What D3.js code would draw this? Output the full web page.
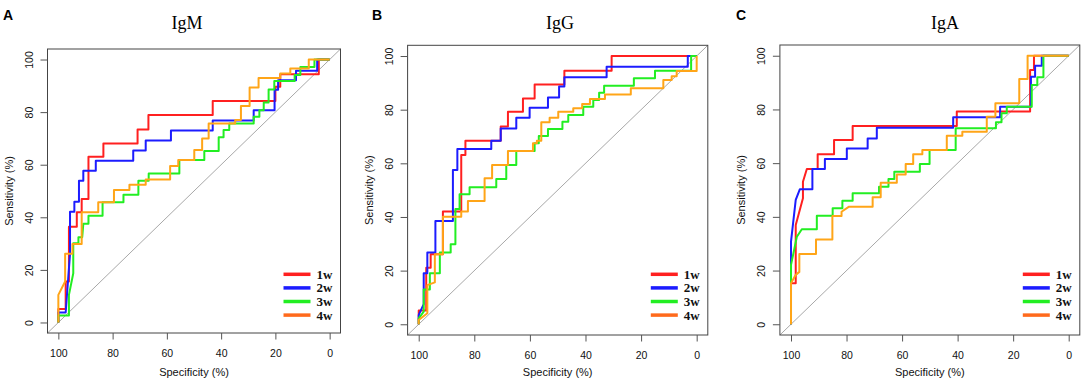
<!DOCTYPE html>
<html>
<head>
<meta charset="utf-8">
<script src="https://cdn.jsdelivr.net/npm/d3@7"></script>
<style>
	body { margin: 0; background: #fff; }
	svg { display: block; }
</style>
</head>
<body>
<svg id="chart" width="1084" height="386"></svg>
<script>
// ROC points as [specificity %, sensitivity %]
const igm1w = [[100,0],[100,5.1],[97.3,5.1],[97.3,15.6],[96.1,15.6],[96.1,36.4],[93.2,36.4],[93.2,41.9],[91.4,41.9],[91.4,47],[88.9,47],[88.9,63],[83.4,63],[83.4,68.1],[70.8,68.1],[70.8,73.4],[66.8,73.4],[66.8,78.9],[43.1,78.9],[43.1,84.2],[20,84.2],[20,89.6],[18.2,89.6],[18.2,94.4],[4,94.4],[4,100],[0,100]];
const igm2w = [[100,0],[100,3.8],[97.3,3.8],[96.5,15],[95.7,26],[95.7,42.1],[94.1,42.1],[94.1,45.9],[92.4,45.9],[92.4,53.9],[90.8,53.9],[90.8,57.7],[86.2,57.7],[86.2,61.5],[72.4,61.5],[72.4,65.4],[67.8,65.4],[67.8,69.2],[58.5,69.2],[58.5,73],[43.1,73],[43.1,76.8],[28,76.8],[28,80.7],[20.3,80.7],[20.3,88.5],[19,88.5],[19,92.1],[12.4,92.1],[12.4,95.7],[4.6,95.7],[4.6,100],[0,100]];
const igm3w = [[100,0],[100,2.7],[96.1,2.7],[96.1,10.5],[94.5,18.7],[94.5,30.1],[92.6,30.1],[92.6,32.4],[91.2,32.4],[90.8,37.5],[88.9,37.5],[88.9,40.6],[83.7,40.6],[83.7,45.7],[76,45.7],[76,48.6],[70.5,48.6],[70.5,53.9],[66.7,53.9],[66.7,56.7],[55.4,56.7],[55.4,61.8],[46.2,61.8],[46.2,65.2],[40.9,65.2],[40.9,70.4],[39.1,70.4],[39.1,73.2],[37,73.2],[37,75.7],[28,75.7],[28,78.2],[25.9,78.2],[25.9,80.7],[24.3,80.7],[24.3,83.7],[22.5,83.7],[22.5,88.6],[20.4,88.6],[20.4,91.8],[12.9,91.8],[12.9,94.1],[10.8,94.1],[10.8,97.2],[5.6,97.2],[5.6,100],[0,100]];
const igm4w = [[100,0],[100,10.5],[97.5,15.6],[97.5,26.1],[94.8,26.1],[94.8,29.8],[91.4,29.8],[91.4,41.9],[85.3,41.9],[85.3,45.7],[79.5,45.7],[79.5,50.4],[73.8,50.4],[73.8,52.4],[67.8,52.4],[67.8,54.4],[58.8,54.4],[58.8,59.5],[55.8,59.5],[55.8,61.8],[49.9,61.8],[49.9,65.6],[47,65.6],[47,70],[44.6,70],[44.6,75.7],[34.8,75.7],[34.8,77],[32.7,77],[32.7,82.3],[29.5,82.3],[29.5,89.4],[26.2,89.4],[26.2,93],[18.2,93],[18.2,94.7],[14.5,94.7],[14.5,96.6],[7.7,96.6],[7.7,100],[0,100]];

const igg1w = [[100,0],[100,5.1],[97.3,5.1],[97.3,21.1],[95.7,21.1],[95.7,26.1],[91.3,26.1],[91.3,42],[84.7,42],[84.7,63.1],[83.2,63.1],[83.2,68.4],[70.5,68.4],[70.5,73.7],[67.9,73.7],[67.9,79.2],[62.5,79.2],[62.5,84.2],[58.3,84.2],[58.3,89.4],[47.6,89.4],[47.6,94.5],[30.6,94.5],[30.6,100],[0,100]];
const igg2w = [[100,0],[100,3.5],[98.2,7.5],[98.2,19],[96.9,19],[96.9,26.8],[94,26.8],[94,38.5],[87.7,38.5],[87.7,57.5],[86.1,57.5],[86.1,65.3],[73.9,65.3],[73.9,68.4],[70.5,68.4],[70.5,73],[64.9,73],[64.9,77],[60.1,77],[60.1,80.7],[53.5,80.7],[53.5,84.5],[49.5,84.5],[49.5,88.6],[47.6,88.6],[47.6,92.1],[32.4,92.1],[32.4,96],[3.2,96],[3.2,100],[0,100]];
const igg3w = [[100,0],[100,2.2],[98.2,4.7],[98.2,13],[96,13],[96,19],[92.4,19],[92.4,26.8],[88.5,26.8],[88.5,29.8],[86.8,29.8],[86.8,43],[85.3,43],[85.3,48.5],[81.7,48.5],[81.7,51.1],[72.1,51.1],[72.1,54.2],[68.5,54.2],[68.5,59.4],[64.9,59.4],[64.9,64.6],[58.3,64.6],[58.3,67.5],[56.8,67.5],[56.8,70.2],[53.5,70.2],[53.5,72.8],[48.3,72.8],[48.3,75.5],[46.2,75.5],[46.2,78],[40.8,78],[40.8,81.1],[37.2,81.1],[37.2,83.6],[35.1,83.6],[35.1,86.3],[33.3,86.3],[33.3,88.9],[22.6,88.9],[22.6,91.7],[15,91.7],[15,94.5],[2,94.5],[2,100],[0,100]];
const igg4w = [[100,0],[100,1.6],[96.9,4.1],[96.9,14.6],[94.2,15.6],[94.2,26.1],[91.3,26.1],[91.3,40.1],[84.7,40.1],[84.7,42],[82.3,42],[82.3,46],[76.3,46],[76.3,54.4],[73.6,54.4],[73.6,59.4],[67.9,59.4],[67.9,64.6],[58.9,64.6],[58.9,67.5],[57.5,67.5],[57.5,68.4],[55.9,68.4],[55.9,75.3],[52.9,75.3],[52.9,77],[49.8,77],[49.8,79.2],[44.4,79.2],[44.4,80.5],[41.2,80.5],[41.2,82.1],[38.4,82.1],[38.4,84],[33,84],[33,85.7],[23.7,85.7],[23.7,88],[12,88],[12,91.1],[9,91.1],[9,92.5],[7.2,92.5],[7.2,94.4],[0,94.4],[0,100]];

const iga1w = [[100,0],[100,15.3],[98.3,15.3],[98.3,37],[95.7,46.9],[95.7,53.1],[94.3,57.8],[90.4,57.8],[90.4,63.3],[84.5,63.3],[84.5,68.6],[77.8,68.6],[77.8,73.8],[40.3,73.8],[40.3,79.2],[13.9,79.2],[13.9,94.7],[12.5,94.7],[12.5,100],[0,100]];
const iga2w = [[100,0],[100,30.8],[98.3,46.3],[96.8,50.3],[92.3,50.3],[92.3,57.8],[87.8,57.8],[87.8,61.5],[79.9,61.5],[79.9,65.5],[72.4,65.5],[72.4,69.2],[69.1,69.2],[69.1,73.2],[41.6,73.2],[41.6,77.1],[24.7,77.1],[24.7,81],[13.6,81],[13.6,92.2],[12.1,92.2],[12.1,96.3],[9.7,96.3],[9.7,100],[0,100]];
const iga3w = [[100,0],[100,22.1],[97.9,32.6],[96.1,35.4],[90.7,35.4],[90.7,40.4],[85,40.4],[85,43.2],[81.5,43.2],[81.5,46],[77.8,46],[77.8,48.8],[68.3,48.8],[68.3,51.2],[64.9,51.2],[64.9,54.1],[62.8,54.1],[62.8,56.8],[53.6,56.8],[53.6,59.7],[50.1,59.7],[50.1,64.9],[40.7,64.9],[40.7,73],[26.2,73],[26.2,75.2],[24.2,75.2],[24.2,78.6],[22.3,78.6],[22.3,81],[13.3,81],[13.3,89.1],[11.3,89.1],[11.3,92],[9.1,92],[9.1,100],[0,100]];
const iga4w = [[100,0],[100,15.3],[98.3,18.4],[97,19.5],[97,26.2],[91,26.2],[91,31.6],[85.1,31.6],[85.1,40.3],[81.8,40.3],[81.8,41.9],[79.1,43.8],[70.6,43.8],[70.6,47.3],[67.7,47.3],[67.7,52.7],[61.9,52.7],[61.9,55.8],[58.7,55.8],[58.7,59.7],[56,59.7],[56,63.3],[52.7,63.3],[52.7,64.9],[43.9,64.9],[43.9,70.2],[38.3,70.2],[38.3,71.7],[29.5,71.7],[29.5,77.3],[26.4,77.3],[26.4,82.3],[17.8,82.3],[17.8,91.3],[14.8,91.3],[14.8,100],[0,100]];

const weeks = ['1w', '2w', '3w', '4w'];
const axisTicks = [0, 20, 40, 60, 80, 100];

const lineColors = ['#ff2020', '#1c1cff', '#22ee22', '#ffa518'];
const legendColors = ['#ff2020', '#1c1cff', '#22ee22', '#ff6a1c'];
const sans = "'Liberation Sans', Arial, sans-serif";
const serif = "'Liberation Serif', 'Times New Roman', serif";

const panels = [
	{ letter: 'A', title: 'IgM', data: [igm1w, igm2w, igm3w, igm4w],
		left: 47.5, right: 340.5, top: 49, bottom: 333, titleX: 187, letterX: 3, ylabX: 12.5 },
	{ letter: 'B', title: 'IgG', data: [igg1w, igg2w, igg3w, igg4w],
		left: 407.6, right: 707.8, top: 45.3, bottom: 335, titleX: 560, letterX: 372, ylabX: 372.5 },
	{ letter: 'C', title: 'IgA', data: [iga1w, iga2w, iga3w, iga4w],
		left: 779.9, right: 1079.8, top: 45, bottom: 335, titleX: 945, letterX: 736, ylabX: 745 },
];

const svg = d3.select('#chart');

const drawPanel = (p) => {
	const g = svg.append('g');
	// R pads the 0..100 range by 4% on each side
	const x = d3.scaleLinear().domain([104, -4]).range([p.left, p.right]);
	const y = d3.scaleLinear().domain([-4, 104]).range([p.bottom, p.top]);

	// chance diagonal
	g.append('line')
		.attr('x1', x(104)).attr('y1', y(-4))
		.attr('x2', x(-4)).attr('y2', y(104))
		.attr('stroke', '#a8a8a8')
		.attr('stroke-width', 1);

	const line = d3.line()
		.x((d) => x(d[0]))
		.y((d) => y(d[1]));

	p.data.forEach((series, i) => {
		g.append('path')
			.datum(series)
			.attr('d', line)
			.attr('fill', 'none')
			.attr('stroke', lineColors[i])
			.attr('stroke-width', 2)
			.attr('stroke-linejoin', 'round');
	});

	// box
	g.append('rect')
		.attr('x', p.left).attr('y', p.top)
		.attr('width', p.right - p.left).attr('height', p.bottom - p.top)
		.attr('fill', 'none')
		.attr('stroke', '#444')
		.attr('stroke-width', 1);

	const xAxis = g.append('g')
		.attr('transform', `translate(0, ${p.bottom})`)
		.call(d3.axisBottom(x).tickValues(axisTicks).tickSize(6.5).tickPadding(10.5));
	const yAxis = g.append('g')
		.attr('transform', `translate(${p.left}, 0)`)
		.call(d3.axisLeft(y).tickValues(axisTicks).tickSize(7));
	[xAxis, yAxis].forEach((a) => {
		a.select('.domain').remove();
		a.selectAll('line').attr('stroke', '#555');
		a.selectAll('text')
			.attr('fill', '#111')
			.style('font-family', sans)
			.style('font-size', '10.5px');
	});
	yAxis.selectAll('text')
		.attr('x', null).attr('dy', null)
		.attr('text-anchor', 'middle')
		.attr('transform', 'translate(-14.5, 0) rotate(-90)');

	g.append('text')
		.attr('x', (p.left + p.right) / 2)
		.attr('y', 376)
		.attr('text-anchor', 'middle')
		.style('font-family', sans).style('font-size', '11px')
		.attr('fill', '#111')
		.text('Specificity (%)');
	g.append('text')
		.attr('transform', `translate(${p.ylabX}, ${(p.top + p.bottom) / 2}) rotate(-90)`)
		.attr('text-anchor', 'middle')
		.style('font-family', sans).style('font-size', '11px')
		.attr('fill', '#111')
		.text('Sensitivity (%)');

	g.append('text')
		.attr('x', p.titleX).attr('y', 29)
		.attr('text-anchor', 'middle')
		.style('font-family', serif).style('font-size', '18px')
		.attr('fill', '#000')
		.text(p.title);
	g.append('text')
		.attr('x', p.letterX).attr('y', 19.5)
		.style('font-family', sans).style('font-size', '14px').style('font-weight', 'bold')
		.attr('fill', '#000')
		.text(p.letter);

	// legend, bottom right
	const legend = g.append('g').attr('transform', `translate(${p.right - 57}, 274.3)`);
	weeks.forEach((w, i) => {
		const row = legend.append('g').attr('transform', `translate(0, ${i * 13.6})`);
		row.append('line')
			.attr('x1', 0).attr('x2', 27)
			.attr('stroke', legendColors[i])
			.attr('stroke-width', 3.5);
		row.append('text')
			.attr('x', 33).attr('y', 4.5)
			.style('font-family', serif).style('font-size', '13px').style('font-weight', 'bold')
			.attr('fill', '#111')
			.text(w);
	});
};

panels.forEach(drawPanel);
</script>
</body>
</html>
